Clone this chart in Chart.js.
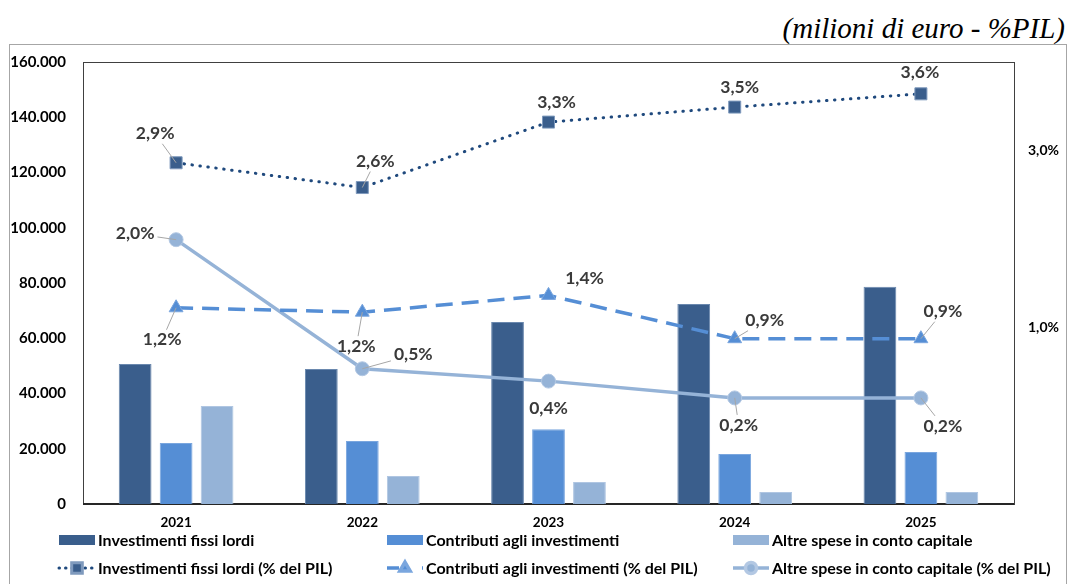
<!DOCTYPE html>
<html lang="it">
<head>
<meta charset="utf-8">
<title>Spese in conto capitale</title>
<script src="https://cdn.jsdelivr.net/npm/chart.js@4.4.1/dist/chart.umd.min.js"></script>
<style>
  body { margin: 0; background: #fff; }
  #wrap { position: relative; width: 1067px; height: 584px; overflow: hidden; }
  #frame { position: absolute; left: 9px; top: 44px; width: 1056px; height: 600px; border: 1px solid #a6a6a6; }
  #unit { position: absolute; right: 2px; top: 10px; font: italic 29px "Liberation Serif", serif; color: #000; line-height: 36px; }
  canvas { position: absolute; left: 0; top: 0; }
</style>
</head>
<body>
<div id="wrap">
  <div id="frame"></div>
  <div id="unit">(milioni di euro - %PIL)</div>
  <canvas id="myChart" width="1067" height="584"></canvas>
</div>
<script>
//* DATA *//
let years = ['2021', '2022', '2023', '2024', '2025'];
let investimenti = [50700, 48900, 65900, 72400, 78600];
let contributi = [22100, 22800, 27100, 18100, 18800];
let altreSpese = [35500, 10100, 8000, 4300, 4300];
let investimentiPil = [2.86, 2.58, 3.32, 3.49, 3.64];
let contributiPil = [1.22, 1.17, 1.36, 0.87, 0.87];
let altreSpesePil = [1.99, 0.53, 0.39, 0.20, 0.20];
let leftTicks = [0, 20000, 40000, 60000, 80000, 100000, 120000, 140000, 160000];
let rightTicks = [1, 3];

let FONT = 'Lato, "Open Sans", sans-serif';

//* HELPERS *//
function fmtThousands(v) {
  return String(v).replace(/\B(?=(\d{3})+(?!\d))/g, '.');
}
function fmtPct(v) {
  return v.toFixed(1).replace('.', ',') + '%';
}

//* PLUGIN: plot frame + bottom axis line *//
let plotFrame = {
  id: 'plotFrame',
  beforeDatasetsDraw(chart) {
    let c = chart.ctx, a = chart.chartArea;
    c.save();
    c.strokeStyle = '#404040';
    c.lineWidth = 1;
    c.strokeRect(a.left + 0.5, a.top + 0.5, a.right - a.left, a.bottom - a.top);
    c.strokeStyle = '#262626';
    c.lineWidth = 2;
    c.beginPath();
    c.moveTo(a.left, a.bottom);
    c.lineTo(a.right, a.bottom);
    c.stroke();
    c.restore();
  }
};

//* PLUGIN: percentage labels with leader lines *//
let pctLabels = {
  id: 'pctLabels',
  afterDatasetsDraw(chart) {
    let c = chart.ctx;
    c.save();
    c.font = 'bold 17.5px ' + FONT;
    c.textAlign = 'center';
    c.textBaseline = 'middle';
    chart.data.datasets.forEach((ds, i) => {
      if (!ds.labelPos) return;
      let meta = chart.getDatasetMeta(i);
      meta.data.forEach((pt, j) => {
        let p = ds.labelPos[j];
        let text = fmtPct(ds.data[j]);
        let lx = pt.x + p[0], ly = pt.y + p[1];
        if (p[2]) {
          let hw = c.measureText(text).width / 2 + 3, hh = 10;
          let dx = pt.x - lx, dy = pt.y - ly;
          let t = Math.min(dx ? hw / Math.abs(dx) : 99, dy ? hh / Math.abs(dy) : 99);
          c.strokeStyle = '#a6a6a6';
          c.lineWidth = 1;
          c.beginPath();
          c.moveTo(lx + dx * t, ly + dy * t);
          c.lineTo(pt.x, pt.y);
          c.stroke();
        }
        c.fillStyle = '#3a3a3a';
        c.fillText(text, lx, ly);
      });
    });
    c.restore();
  }
};

//* PLUGIN: custom legend, 3 columns x 2 rows *//
let legendCols = [59, 387, 733];
let legendRows = [540, 568];
let customLegend = {
  id: 'customLegend',
  afterDraw(chart) {
    let c = chart.ctx;
    c.save();
    c.font = 'bold 16px ' + FONT;
    c.textBaseline = 'middle';
    c.textAlign = 'left';
    let barIdx = 0, lineIdx = 0;
    chart.data.datasets.forEach(ds => {
      let isBar = ds.type === 'bar';
      let x = legendCols[isBar ? barIdx++ : lineIdx++];
      let y = legendRows[isBar ? 0 : 1];
      if (isBar) {
        c.fillStyle = ds.backgroundColor;
        c.fillRect(x, y - 5, 36, 10);
      } else {
        c.strokeStyle = ds.borderColor;
        c.lineWidth = ds.borderWidth;
        c.lineCap = ds.borderCapStyle || 'butt';
        c.setLineDash(ds.legendDash || []);
        c.beginPath();
        c.moveTo(x, y);
        c.lineTo(x + 36, y);
        c.stroke();
        c.setLineDash([]);
        c.fillStyle = ds.pointBackgroundColor;
        c.strokeStyle = ds.pointBorderColor;
        Chart.helpers.drawPoint(c, { pointStyle: ds.pointStyle, radius: ds.legendRadius, rotation: 0, borderWidth: 1 }, x + 18, y);
      }
      c.fillStyle = '#000';
      c.fillText(ds.label, x + 39, y + 1);
    });
    c.restore();
  }
};

//* CHART *//
let ctx = document.getElementById('myChart');

let chartObj = {
  data: {
    labels: years,
    datasets: [
      {
        type: 'line',
        label: 'Investimenti fissi lordi (% del PIL)',
        data: investimentiPil,
        yAxisID: 'y1',
        order: 0,
        borderColor: '#1f497d',
        borderWidth: 3,
        borderDash: [0.5, 7.5],
        borderCapStyle: 'round',
        legendDash: [0.5, 6],
        pointStyle: 'rect',
        pointRadius: 8.5,
        legendRadius: 7.5,
        pointBackgroundColor: '#3a5e8c',
        pointBorderColor: '#7f9abd',
        pointBorderWidth: 1,
        labelPos: [[-21, -29, true], [13, -26, true], [8, -20, false], [5, -20, false], [-1, -21, false]]
      },
      {
        type: 'line',
        label: 'Contributi agli investimenti (% del PIL)',
        data: contributiPil,
        yAxisID: 'y1',
        order: 0,
        borderColor: '#558ed5',
        borderWidth: 3.5,
        borderDash: [17, 9],
        legendDash: [12, 23],
        pointStyle: 'triangle',
        pointRadius: 8,
        legendRadius: 6,
        pointBackgroundColor: '#558ed5',
        pointBorderColor: '#7aa6de',
        pointBorderWidth: 1,
        labelPos: [[-14, 32, true], [-6, 34, true], [36, -17, false], [30, -18, true], [22, -27, true]]
      },
      {
        type: 'line',
        label: 'Altre spese in conto capitale (% del PIL)',
        data: altreSpesePil,
        yAxisID: 'y1',
        order: 0,
        borderColor: '#95b3d7',
        borderWidth: 3.5,
        pointStyle: 'circle',
        pointRadius: 7,
        legendRadius: 5.5,
        pointBackgroundColor: '#95b3d7',
        pointBorderColor: '#b3c8e3',
        pointBorderWidth: 1,
        labelPos: [[-41, -6, true], [51, -14, true], [0, 27, false], [4, 27, true], [22, 28, true]]
      },
      {
        type: 'bar',
        label: 'Investimenti fissi lordi',
        data: investimenti,
        yAxisID: 'y',
        order: 1,
        backgroundColor: '#3a5e8c',
        borderColor: '#6a88ae',
        borderWidth: 1,
        barPercentage: 0.8,
        categoryPercentage: 0.66
      },
      {
        type: 'bar',
        label: 'Contributi agli investimenti',
        data: contributi,
        yAxisID: 'y',
        order: 1,
        backgroundColor: '#558ed5',
        borderColor: '#7aa6de',
        borderWidth: 1,
        barPercentage: 0.8,
        categoryPercentage: 0.66
      },
      {
        type: 'bar',
        label: 'Altre spese in conto capitale',
        data: altreSpese,
        yAxisID: 'y',
        order: 1,
        backgroundColor: '#95b3d7',
        borderColor: '#b0c6e2',
        borderWidth: 1,
        barPercentage: 0.8,
        categoryPercentage: 0.66
      }
    ]
  },
  options: {
    responsive: false,
    animation: false,
    layout: { padding: { top: 62, left: 0, right: 0, bottom: 0 } },
    plugins: {
      legend: { display: false },
      tooltip: { enabled: false }
    },
    scales: {
      x: {
        offset: true,
        grid: { display: false, drawTicks: false },
        border: { display: false },
        ticks: { color: '#000', padding: 11, font: { family: FONT, size: 13.5, weight: 'bold' } },
        afterFit: s => { s.height = 80; }
      },
      y: {
        position: 'left',
        min: 0,
        max: 160000,
        grid: { display: false, drawTicks: false },
        border: { display: false },
        afterBuildTicks: s => { s.ticks = leftTicks.map(v => ({ value: v })); },
        ticks: {
          color: '#000',
          padding: 17,
          font: { family: FONT, size: 15, weight: 'bold' },
          callback: v => fmtThousands(v)
        },
        afterFit: s => { s.width = 83; }
      },
      y1: {
        position: 'right',
        min: -1,
        max: 4,
        grid: { display: false, drawTicks: false },
        border: { display: false },
        afterBuildTicks: s => { s.ticks = rightTicks.map(v => ({ value: v })); },
        ticks: {
          color: '#000',
          padding: 14,
          font: { family: FONT, size: 14, weight: 'bold' },
          callback: v => fmtPct(v)
        },
        afterFit: s => { s.width = 53; }
      }
    }
  },
  plugins: [plotFrame, pctLabels, customLegend]
};

new Chart(ctx, chartObj);
</script>
</body>
</html>
